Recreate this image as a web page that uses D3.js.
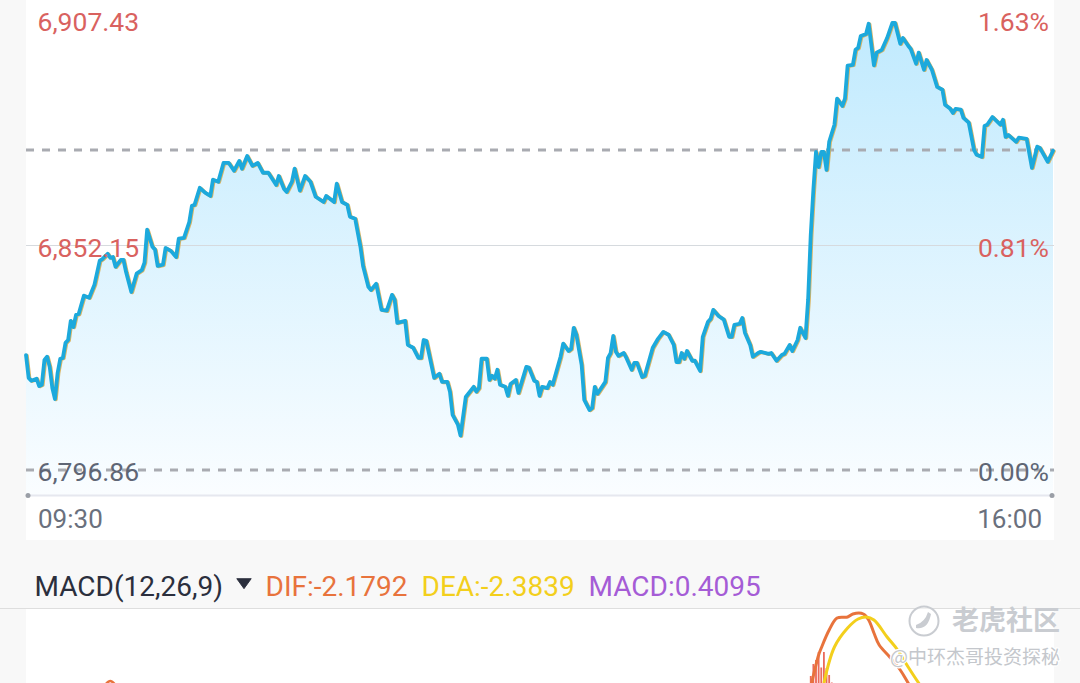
<!DOCTYPE html>
<html><head><meta charset="utf-8">
<script src="https://cdn.jsdelivr.net/npm/d3@7/dist/d3.min.js"></script>
<style>html,body{margin:0;padding:0;background:#f8f8f8;overflow:hidden}svg{display:block}text{font-family:Roboto,sans-serif}</style>
</head><body><svg id="c" width="1080" height="683"></svg>
<script>
// Minutes after the 09:30 open, and the index level at each minute that shapes the line
const minutes=[0,1,2,4,5,6,7,8,9,10,11,12,13,14,15,16,17,18,19,20,22,24,26,28,29,31,32,33,34,36,37,38,40,42,44,45,46,48,49,50,52,53,55,57,58,60,62,63,64,66,68,70,71,73,75,77,79,81,82,84,86,88,90,92,93,95,96,98,99,101,102,104,106,108,110,113,114,117,118,120,122,123,125,127,128,130,131,133,135,137,139,140,141,144,145,147,149,150,151,152,153,155,157,158,160,161,162,164,165,167,170,171,172,173,175,176,177,178,179,180,182,183,184,186,187,190,191,193,194,195,196,198,199,200,203,204,206,207,208,209,211,212,214,215,216,217,220,221,222,223,224,225,227,228,230,231,232,234,235,238,240,242,244,246,247,248,249,250,251,253,254,256,257,259,260,261,263,265,267,268,269,271,272,273,275,276,278,279,282,283,285,287,288,290,291,293,294,296,297,298,299,300,301,302,303,304,305,307,308,310,311,312,314,315,316,317,319,320,322,323,325,327,329,330,332,333,335,336,338,339,341,342,344,346,348,349,351,352,353,355,356,358,360,361,363,364,365,367,370,371,372,373,376,377,380,382,384,385,388,390];
const prices=[6825.1,6819.5,6818.8,6819.3,6817.5,6817.8,6823.9,6824.7,6822.2,6817.0,6814.3,6820.7,6824.2,6824.4,6828.1,6828.8,6833.5,6832.0,6835.0,6835.2,6839.7,6839.2,6842.4,6848.3,6848.7,6850.0,6849.0,6849.2,6846.8,6848.5,6848.5,6845.5,6840.6,6845.1,6846.0,6847.8,6855.9,6851.7,6851.0,6847.0,6847.3,6851.4,6850.7,6849.2,6853.7,6853.9,6857.8,6861.8,6862.0,6866.2,6865.0,6864.2,6868.2,6867.7,6872.3,6872.3,6870.4,6872.8,6870.9,6874.0,6871.6,6872.3,6869.9,6869.9,6868.9,6866.9,6869.1,6865.9,6865.2,6867.7,6870.9,6865.5,6869.1,6867.7,6864.0,6862.7,6864.2,6862.7,6867.2,6862.7,6862.0,6859.1,6858.6,6851.7,6847.0,6841.9,6841.1,6842.6,6836.2,6836.0,6839.9,6838.7,6833.0,6833.5,6827.6,6826.9,6824.4,6824.4,6828.8,6828.6,6825.6,6819.5,6820.5,6818.5,6818.5,6816.1,6810.4,6808.0,6805.3,6814.8,6817.3,6816.1,6817.0,6824.2,6824.2,6819.0,6820.0,6819.3,6821.5,6817.8,6817.3,6815.1,6818.0,6819.0,6815.8,6822.2,6822.0,6818.8,6818.5,6815.1,6817.3,6817.0,6818.5,6817.8,6824.7,6827.9,6826.1,6826.6,6831.8,6830.1,6822.7,6814.1,6811.6,6812.1,6817.3,6815.6,6818.5,6824.4,6825.6,6829.8,6825.9,6824.9,6825.6,6824.4,6821.5,6823.2,6823.2,6819.7,6820.0,6826.9,6829.1,6830.8,6830.1,6827.6,6823.4,6823.4,6825.6,6824.2,6826.1,6823.7,6823.7,6821.2,6829.6,6833.3,6834.0,6836.2,6834.7,6833.8,6829.6,6829.6,6832.5,6832.8,6834.2,6830.6,6827.6,6824.7,6825.6,6825.9,6825.4,6825.6,6823.7,6825.1,6825.4,6827.6,6826.1,6828.8,6831.8,6829.3,6838.7,6854.6,6865.7,6875.0,6871.3,6875.0,6875.0,6870.6,6877.5,6881.7,6888.1,6886.3,6888.1,6896.2,6896.4,6900.1,6900.6,6903.5,6904.0,6906.5,6896.3,6899.4,6900.1,6903.0,6906.7,6906.7,6901.6,6903.0,6901.1,6900.3,6896.7,6899.4,6895.2,6897.6,6895.2,6891.0,6890.3,6886.6,6885.6,6884.6,6885.6,6885.4,6883.4,6882.2,6875.5,6874.3,6873.8,6881.4,6881.7,6883.6,6881.7,6882.9,6878.7,6879.2,6877.5,6878.5,6878.2,6871.1,6876.3,6876.0,6872.6,6875.3];

const priceTicks=[6907.43,6852.15,6796.86];
const percentTicks=["1.63%","0.81%","0.00%"];
const priceTickColors=["#d9625f","#d9625f","#5f6675"];
const percentTickColors=["#d9625f","#d9625f","#5f6675"];
const referencePrice=6875.5;
const timeLabels=["09:30","16:00"];

const macdTitle="MACD(12,26,9)";
const macdLegend=["DIF:-2.1792","DEA:-2.3839","MACD:0.4095"];
const macdLegendColors=["#e8733c","#f3cf1c","#a55cd6"];

// MACD panel series (only the tops that show above the cropped bottom edge)
const difMinutes=[298,301,302,305,308,312,314,318,320,322,324,328,332,335,338];
const difValues=[-1.4,5.0,6.4,10,12.4,12.6,13.2,13.2,12,9.4,7,4.6,2,-0.6,-3];
const deaMinutes=[303,307,312,316,319,322,327,331,335,339,341];
const deaValues=[-0.6,6.6,10.4,12.2,12.6,12,8.6,6,2.6,-0.6,-2];
const earlyDifMinutes=[30,32,34];
const earlyDifValues=[-1,-0.2,-1];
const histMinutes=[298,299,300,301,302,303,304,305,306];
const histValues=[0.8,3.2,4,5.6,2.5,5.6,2.4,1,-0.5];

const watermarkTop="老虎社区";
const watermarkBottom="@中环杰哥投资探秘";

const svg=d3.select("#c");
const x=d3.scaleLinear().domain([0,390]).range([26,1053]);
const y=d3.scaleLinear().domain([6796.86,6907.43]).range([470,20]);
const yMacd=d3.scaleLinear().domain([0,14]).range([680,610]);
const plotBottom=495;

const series=minutes.map((m,i)=>({m,p:prices[i]}));

svg.append("rect").attr("x",26).attr("y",0).attr("width",1028).attr("height",540).attr("fill","#fff");
svg.append("rect").attr("x",26).attr("y",609).attr("width",1028).attr("height",74).attr("fill","#fff");
svg.append("line").attr("x1",0).attr("x2",1080).attr("y1",608.5).attr("y2",608.5).attr("stroke","#dedede");

const grad=svg.append("defs").append("linearGradient").attr("id","g").attr("gradientUnits","userSpaceOnUse")
  .attr("x1",0).attr("x2",0).attr("y1",20).attr("y2",plotBottom);
grad.append("stop").attr("offset",0).attr("stop-color","#c0eafe");
grad.append("stop").attr("offset",1).attr("stop-color","#fafdff");

const area=d3.area().x(d=>x(d.m)).y0(plotBottom).y1(d=>y(d.p));
svg.append("path").datum(series).attr("d",area).attr("fill","url(#g)");

// grid
svg.append("line").attr("x1",26).attr("x2",1054).attr("y1",Math.round(y(priceTicks[1]))+0.5).attr("y2",Math.round(y(priceTicks[1]))+0.5).attr("stroke","#d6dade").attr("stroke-width",1);
[referencePrice,priceTicks[2]].forEach(v=>{
  svg.append("line").attr("x1",26).attr("x2",1054).attr("y1",Math.round(y(v))).attr("y2",Math.round(y(v)))
    .attr("stroke","#a9abb1").attr("stroke-width",3).attr("stroke-dasharray","8 8");
});
svg.append("line").attr("x1",26).attr("x2",1054).attr("y1",plotBottom+0.5).attr("y2",plotBottom+0.5).attr("stroke","#e6e8ef").attr("stroke-width",2);
[28,1052].forEach(cx=>svg.append("circle").attr("cx",cx).attr("cy",plotBottom+0.5).attr("r",2.5).attr("fill","#9a9ea6"));

const line=d3.line().x(d=>x(d.m)).y(d=>y(d.p)).curve(d3.curveLinear);
svg.append("path").datum(series).attr("d",line).attr("fill","none").attr("stroke","#d9b565").attr("stroke-width",3.5).attr("stroke-linejoin","round").attr("stroke-linecap","round").attr("transform","translate(1,0.5)");
svg.append("path").datum(series).attr("d",line).attr("fill","none").attr("stroke","#1ca9dc").attr("stroke-width",3.8).attr("stroke-linejoin","round").attr("stroke-linecap","round");

// value labels (the middle pair sits slightly lower, below its grid line)
const labelOffsets=[10.5,12.5,10.5];
priceTicks.forEach((v,i)=>{
  svg.append("text").attr("x",37.5).attr("y",y(v)+labelOffsets[i]).attr("font-size",26.5).attr("fill",priceTickColors[i]).text(d3.format(",.2f")(v));
  svg.append("text").attr("x",1049).attr("y",y(v)+labelOffsets[i]).attr("text-anchor","end").attr("font-size",26.5).attr("fill",percentTickColors[i]).text(percentTicks[i]);
});
svg.append("text").attr("x",38).attr("y",528).attr("font-size",26).attr("fill","#6a707d").text(timeLabels[0]);
svg.append("text").attr("x",1042).attr("y",528).attr("text-anchor","end").attr("font-size",26).attr("fill","#6a707d").text(timeLabels[1]);

// MACD header
svg.append("text").attr("x",34.5).attr("y",596).attr("font-size",28).attr("fill","#2b2f3d").text(macdTitle);
svg.append("path").attr("d",d3.symbol(d3.symbolTriangle,90)()).attr("transform","translate(244,582) rotate(180) scale(1,0.8)").attr("fill","#2b2f3d").attr("stroke","#2b2f3d").attr("stroke-width",1).attr("stroke-linejoin","round");
[265.5,421.5,588.5].forEach((lx,i)=>svg.append("text").attr("x",lx).attr("y",596).attr("font-size",28).attr("fill",macdLegendColors[i]).text(macdLegend[i]));

// MACD panel
const clip=svg.append("defs").append("clipPath").attr("id","mc");
clip.append("rect").attr("x",26).attr("y",609).attr("width",1028).attr("height",74);
const panel=svg.append("g").attr("clip-path","url(#mc)");
panel.selectAll("rect.h").data(histMinutes).join("rect").attr("class","h")
  .attr("x",d=>x(d)-0.9).attr("width",1.8)
  .attr("y",(d,i)=>Math.min(yMacd(histValues[i]),yMacd(-1)))
  .attr("height",(d,i)=>Math.abs(yMacd(-1)-yMacd(histValues[i])))
  .attr("fill","#ea6a5c");
const ml=d3.line().x(d=>x(d[0])).y(d=>yMacd(d[1])).curve(d3.curveCatmullRom);
panel.append("path").attr("d",ml(d3.zip(earlyDifMinutes,earlyDifValues))).attr("fill","none").attr("stroke","#e8733c").attr("stroke-width",2.5);
panel.append("path").attr("d",ml(d3.zip(difMinutes,difValues))).attr("fill","none").attr("stroke","#e8733c").attr("stroke-width",3);
panel.append("path").attr("d",ml(d3.zip(deaMinutes,deaValues))).attr("fill","none").attr("stroke","#f3cf1c").attr("stroke-width",3);

// watermark
const wm=svg.append("g");
wm.append("circle").attr("cx",924).attr("cy",621).attr("r",14.5).attr("fill","rgba(255,255,255,.5)").attr("stroke","#c9ccd1").attr("stroke-width",2);
wm.append("path").attr("d","M916 628 Q928 630 931 614 L928 612 Q925 622 916 625 Z").attr("fill","#c9ccd1");
wm.append("text").attr("x",952).attr("y",630).style("font-family","'Noto Sans CJK SC'").attr("font-size",27).attr("font-weight",700).attr("fill","#c9ccd1").text(watermarkTop);
wm.append("text").attr("x",890).attr("y",664).style("font-family","'Noto Sans CJK SC'").attr("font-size",19).attr("fill","#c4c7cc").attr("stroke","#fff").attr("stroke-width",2.5).attr("paint-order","stroke").text(watermarkBottom);
</script></body></html>
